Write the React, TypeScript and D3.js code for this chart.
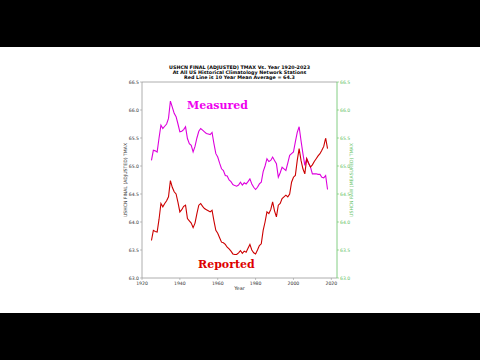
import React from "react";
import * as d3 from "d3";

const years: number[] = d3.range(1925, 2019);
const measured: number[] = [
  65.10, 65.28, 65.27, 65.25, 65.50, 65.73, 65.67, 65.71, 65.75, 65.85,
  66.16, 66.05, 65.94, 65.88, 65.75, 65.61, 65.62, 65.65, 65.70, 65.49,
  65.40, 65.37, 65.25, 65.35, 65.50, 65.62, 65.67, 65.64, 65.61, 65.58,
  65.57, 65.56, 65.60, 65.40, 65.22, 65.16, 65.05, 64.95, 64.92, 64.83,
  64.82, 64.75, 64.72, 64.67, 64.65, 64.64, 64.66, 64.71, 64.66, 64.70,
  64.68, 64.72, 64.77, 64.68, 64.62, 64.58, 64.62, 64.68, 64.71, 64.90,
  65.00, 65.13, 65.08, 65.10, 65.16, 65.10, 65.04, 64.80, 64.88, 64.98,
  64.95, 64.92, 65.05, 65.19, 65.22, 65.25, 65.43, 65.60, 65.70, 65.45,
  65.22, 65.01, 65.13, 65.05, 64.98, 64.86, 64.86, 64.86, 64.85, 64.85,
  64.80, 64.79, 64.83, 64.58,
];
const reported: number[] = [
  63.67, 63.85, 63.83, 63.82, 64.05, 64.33, 64.27, 64.33, 64.38, 64.45,
  64.74, 64.62, 64.54, 64.50, 64.35, 64.18, 64.22, 64.28, 64.30, 64.06,
  64.02, 63.98, 63.90, 63.98, 64.15, 64.30, 64.33, 64.28, 64.24, 64.22,
  64.20, 64.18, 64.21, 64.02, 63.85, 63.80, 63.72, 63.64, 63.63, 63.60,
  63.55, 63.52, 63.48, 63.43, 63.42, 63.42, 63.45, 63.49, 63.44, 63.48,
  63.46, 63.53, 63.60, 63.50, 63.45, 63.43, 63.50, 63.58, 63.61, 63.85,
  64.00, 64.18, 64.15, 64.22, 64.36, 64.20, 64.09, 64.30, 64.33, 64.42,
  64.45, 64.48, 64.45, 64.50, 64.71, 64.80, 64.83, 65.10, 65.31, 65.10,
  64.95, 64.86, 65.13, 65.05, 64.98, 65.02, 65.08, 65.13, 65.18, 65.22,
  65.28, 65.35, 65.50, 65.31,
];
const xTicks: number[] = [1920, 1940, 1960, 1980, 2000, 2020];
const yTicks: number[] = [63.0, 63.5, 64.0, 64.5, 65.0, 65.5, 66.0, 66.5];
const titleLines: string[] = [
  "USHCN FINAL (ADJUSTED) TMAX Vs. Year 1920-2023",
  "At All US Historical Climatology Network Stations",
  "Red Line is 10 Year Mean  Average = 64.3",
];

export default function App() {
  const W = 480, H = 360;
  const L = 142, R = 337, T = 82, B = 278;
  const x = d3.scaleLinear().domain([1920, 2023]).range([L, R]);
  const yL = d3.scaleLinear().domain([63.0, 66.5]).range([B, T]);
  const yR = d3.scaleLinear().domain([63.0, 66.5]).range([B, T]);
  const lineM = d3.line<number>().x((_, i) => x(years[i])).y((d) => yR(d));
  const lineR = d3.line<number>().x((_, i) => x(years[i])).y((d) => yL(d));
  const axisGray = "#999";
  const green = "#66c266";
  const tickFont = 4.6;
  return (
    <svg width={W} height={H} style={{ position: "absolute", left: 0, top: 0 }}>
      <rect x={0} y={0} width={W} height={H} fill="#fff" />
      <rect x={0} y={0} width={W} height={47} fill="#000" />
      <rect x={0} y={313} width={W} height={47} fill="#000" />
      {titleLines.map((t, i) => (
        <text key={i} x={(L + R) / 2} y={69 + i * 5} textAnchor="middle"
          fontFamily="DejaVu Sans" fontWeight="bold" fontSize={4.8} fill="#000">{t}</text>
      ))}
      <path d={lineM(measured) || ""} fill="none" stroke="#dd00dd" strokeWidth={1.1} />
      <path d={lineR(reported) || ""} fill="none" stroke="#cc0000" strokeWidth={1.1} />
      <line x1={L} x2={R} y1={T} y2={T} stroke={axisGray} strokeWidth={0.8} />
      <line x1={L} x2={R} y1={B} y2={B} stroke={axisGray} strokeWidth={0.8} />
      <line x1={L} x2={L} y1={T} y2={B} stroke={axisGray} strokeWidth={0.8} />
      <line x1={R} x2={R} y1={T} y2={B} stroke={green} strokeWidth={0.8} />
      {yTicks.map((v) => (
        <g key={"l" + v}>
          <line x1={L - 2} x2={L} y1={yL(v)} y2={yL(v)} stroke={axisGray} strokeWidth={0.6} />
          <text x={L - 3} y={yL(v) + 1.6} textAnchor="end" fontFamily="DejaVu Sans"
            fontSize={tickFont} fill="#333">{v.toFixed(1)}</text>
        </g>
      ))}
      {yTicks.map((v) => (
        <g key={"r" + v}>
          <line x1={R} x2={R + 2} y1={yR(v)} y2={yR(v)} stroke={green} strokeWidth={0.6} />
          <text x={R + 3} y={yR(v) + 1.6} textAnchor="start" fontFamily="DejaVu Sans"
            fontSize={tickFont} fill={green}>{v.toFixed(1)}</text>
        </g>
      ))}
      {xTicks.map((v) => (
        <g key={"x" + v}>
          <line x1={x(v)} x2={x(v)} y1={B} y2={B + 2} stroke={axisGray} strokeWidth={0.6} />
          <text x={x(v)} y={B + 6.5} textAnchor="middle" fontFamily="DejaVu Sans"
            fontSize={tickFont} fill="#333">{v}</text>
        </g>
      ))}
      <text x={(L + R) / 2} y={B + 11.5} textAnchor="middle" fontFamily="DejaVu Sans"
        fontSize={5} fill="#333">Year</text>
      <text transform={`translate(127,${(T + B) / 2}) rotate(-90)`} textAnchor="middle"
        fontFamily="DejaVu Sans" fontSize={4.6} fill="#333">USHCN FINAL (ADJUSTED) TMAX</text>
      <text transform={`translate(353,${(T + B) / 2}) rotate(-90)`} textAnchor="middle"
        fontFamily="DejaVu Sans" fontSize={4.6} fill={green}>USHCN RAW (MEASURED) TMAX</text>
      <text x={187} y={109} fontFamily="DejaVu Serif" fontWeight="bold" fontSize={11}
        fill="#ee00ee">Measured</text>
      <text x={198} y={268} fontFamily="DejaVu Serif" fontWeight="bold" fontSize={11}
        fill="#dd0000">Reported</text>
    </svg>
  );
}
